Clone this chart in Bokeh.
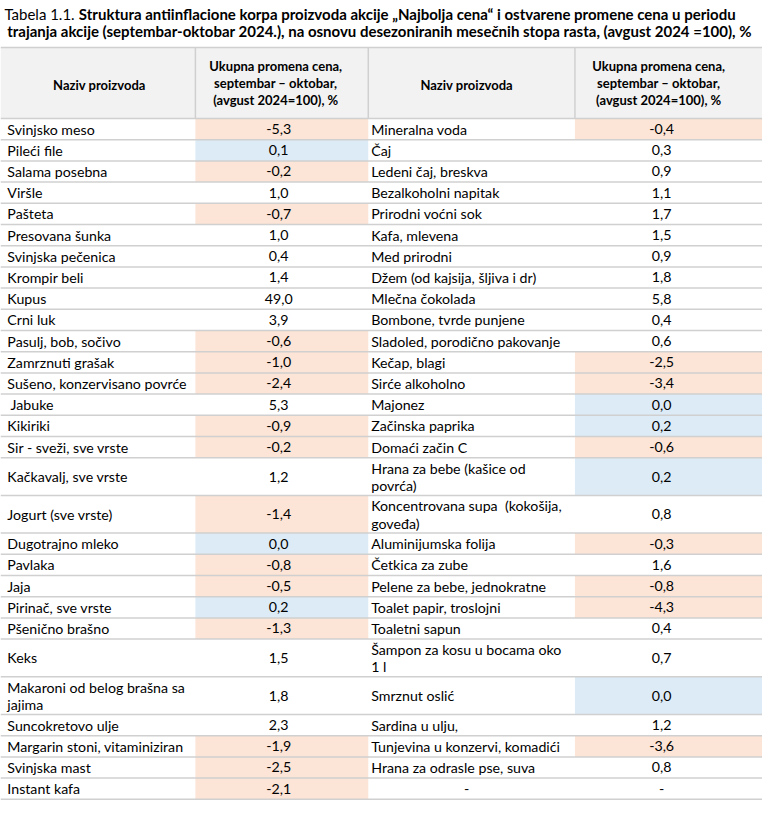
from bokeh.plotting import figure
from bokeh.models import Range1d, ColumnDataSource
from bokeh.core.properties import value
from bokeh.embed import file_html
from bokeh.resources import INLINE

# ---------------- data ----------------
title_prefix = "Tabela 1.1."
title_line1 = "Struktura antiinflacione korpa proizvoda akcije \u201eNajbolja cena\u201c i ostvarene promene cena u periodu"
title_line2 = "trajanja akcije (septembar-oktobar 2024.), na osnovu desezoniranih mesečnih stopa rasta, (avgust 2024 =100), %"
header_name = "Naziv proizvoda"
header_value = ["Ukupna promena cena,", "septembar \u2013 oktobar,", "(avgust 2024=100), %"]

left_names = [
    "Svinjsko meso", "Pileći file", "Salama posebna", "Viršle", "Pašteta",
    "Presovana šunka", "Svinjska pečenica", "Krompir beli", "Kupus", "Crni luk",
    "Pasulj, bob, sočivo", "Zamrznuti grašak", "Sušeno, konzervisano povrće", " Jabuke",
    "Kikiriki", "Sir - sveži, sve vrste", "Kačkavalj, sve vrste", "Jogurt (sve vrste)",
    "Dugotrajno mleko", "Pavlaka", "Jaja", "Pirinač, sve vrste", "Pšenično brašno",
    "Keks", "Makaroni od belog brašna sa\njajima", "Suncokretovo ulje",
    "Margarin stoni, vitaminiziran", "Svinjska mast", "Instant kafa",
]
left_values = [
    -5.3, 0.1, -0.2, 1.0, -0.7, 1.0, 0.4, 1.4, 49.0, 3.9,
    -0.6, -1.0, -2.4, 5.3, -0.9, -0.2, 1.2, -1.4, 0.0, -0.8,
    -0.5, 0.2, -1.3, 1.5, 1.8, 2.3, -1.9, -2.5, -2.1,
]
right_names = [
    "Mineralna voda", "Čaj", "Ledeni čaj, breskva", "Bezalkoholni napitak",
    "Prirodni voćni sok", "Kafa, mlevena", "Med prirodni", "Džem (od kajsija, šljiva i dr)",
    "Mlečna čokolada", "Bombone, tvrde punjene", "Sladoled, porodično pakovanje",
    "Kečap, blagi", "Sirće alkoholno", "Majonez", "Začinska paprika", "Domaći začin C",
    "Hrana za bebe (kašice od\npovrća)", "Koncentrovana supa  (kokošija,\ngoveđa)",
    "Aluminijumska folija", "Četkica za zube", "Pelene za bebe, jednokratne",
    "Toalet papir, troslojni", "Toaletni sapun", "Šampon za kosu u bocama oko\n1 l",
    "Smrznut oslić", "Sardina u ulju,", "Tunjevina u konzervi, komadići",
    "Hrana za odrasle pse, suva", "-",
]
right_values = [
    -0.4, 0.3, 0.9, 1.1, 1.7, 1.5, 0.9, 1.8, 5.8, 0.4,
    0.6, -2.5, -3.4, 0.0, 0.2, -0.6, 0.2, 0.8, -0.3, 1.6,
    -0.8, -4.3, 0.4, 0.7, 0.0, 1.2, -3.6, 0.8, None,
]

# ---------------- layout (reference pixel units) ----------------
W_REF, H_REF = 778, 818
FIG_W, FIG_H = 762, 801
col_edges = [0, 199, 375.5, 586.5, 778]
name_x = [7, 378.5]
value_cx = [284, 675]
name_cx = [101, 476]
header_top, header_bot = 48, 120.5
single_h, double_h = 21.65, 38.5

FONT = "Lato"
body_size = "14.2px"
head_size = "13px"
title_size = "15px"

PEACH = "#FCE4D6"
BLUE = "#DDEBF7"
HEAD_BG = "#F2F2F2"
LINE = "#D0D0D0"
TXT = "#000000"


def fill_for(v):
    if v is None:
        return None
    if v < 0:
        return PEACH
    if v <= 0.2:
        return BLUE
    return None


def fmt(v):
    return "-" if v is None else f"{v:.1f}".replace(".", ",")


def keep_spaces(s):
    stripped = s.lstrip(" ")
    out = "\u00a0" * (len(s) - len(stripped)) + stripped
    return out.replace("  ", " \u00a0")


p = figure(width=FIG_W, height=FIG_H, output_backend="svg", toolbar_location=None,
           x_range=Range1d(0, W_REF), y_range=Range1d(H_REF, 0),
           x_axis_type=None, y_axis_type=None, min_border=0)
p.grid.visible = False
p.outline_line_color = None
p.background_fill_color = "white"
p.border_fill_color = "white"

# row geometry
n = len(left_names)
tops, bots = [], []
y = header_bot
for i in range(n):
    lines = max(left_names[i].count("\n"), right_names[i].count("\n")) + 1
    h = double_h if lines > 1 else single_h
    tops.append(y)
    bots.append(y + h)
    y += h

# header background
p.quad(left=[col_edges[0]], right=[col_edges[-1]], top=[header_top], bottom=[header_bot],
       fill_color=HEAD_BG, line_color=None)

# cell fills
fl, fr, ft, fb, fc = [], [], [], [], []
for side, vals in enumerate([left_values, right_values]):
    for i, v in enumerate(vals):
        c = fill_for(v)
        if c:
            fl.append(col_edges[2 * side + 1]); fr.append(col_edges[2 * side + 2])
            ft.append(tops[i]); fb.append(bots[i]); fc.append(c)
p.quad(source=ColumnDataSource(dict(l=fl, r=fr, t=ft, b=fb, c=fc)),
       left="l", right="r", top="t", bottom="b", fill_color="c", line_color=None)

# horizontal lines
ys = [header_top, header_bot] + bots
p.multi_line(xs=[[col_edges[0], col_edges[-1]] for _ in ys], ys=[[yy, yy] for yy in ys],
             line_color=LINE, line_width=1.5)
# header vertical separators
p.multi_line(xs=[[x, x] for x in col_edges[1:-1]], ys=[[header_top, header_bot]] * 3,
             line_color=LINE, line_width=1.5)

# title
p.text(x=[4], y=[14], text=[title_prefix], text_font=value(FONT), text_font_size=value(title_size),
       text_baseline="middle", text_align="left", text_color=TXT)
p.text(x=[80], y=[14], text=[title_line1], text_font=value(FONT), text_font_size=value(title_size),
       text_font_style="bold", text_baseline="middle", text_align="left", text_color=TXT)
p.text(x=[387], y=[31.5], text=[title_line2], text_font=value(FONT), text_font_size=value(title_size),
       text_font_style="bold", text_baseline="middle", text_align="center", text_color=TXT)

# header texts
hx, hy, ht = [], [], []
for side in range(2):
    hx.append(name_cx[side]); hy.append(86); ht.append(header_name)
    for k, line in enumerate(header_value):
        hx.append(value_cx[side] - 3); hy.append(67 + 17.5 * k); ht.append(line)
p.text(x=hx, y=hy, text=ht, text_font=value(FONT), text_font_size=value(head_size),
       text_font_style="bold", text_baseline="middle", text_align="center", text_color=TXT)

# body texts
nx, ny, nt, na = [], [], [], []
for side, names in enumerate([left_names, right_names]):
    for i, name in enumerate(names):
        mid = (tops[i] + bots[i]) / 2
        parts = name.split("\n")
        if name == "-":
            nx.append(name_cx[side]); ny.append(mid); nt.append(name); na.append("center")
            continue
        if len(parts) == 1:
            nx.append(name_x[side]); ny.append(mid); nt.append(keep_spaces(name)); na.append("left")
        else:
            for k, part in enumerate(parts):
                nx.append(name_x[side]); ny.append(mid - 8.5 + 17.5 * k); nt.append(keep_spaces(part)); na.append("left")
p.text(source=ColumnDataSource(dict(x=nx, y=ny, t=nt, a=na)), x="x", y="y", text="t",
       text_align="a", text_font=value(FONT), text_font_size=value(body_size),
       text_baseline="middle", text_color=TXT)

vx, vy, vt = [], [], []
for side, vals in enumerate([left_values, right_values]):
    for i, v in enumerate(vals):
        vx.append(value_cx[side]); vy.append((tops[i] + bots[i]) / 2); vt.append(fmt(v))
p.text(x=vx, y=vy, text=vt, text_align="center", text_font=value(FONT),
       text_font_size=value(body_size), text_baseline="middle", text_color=TXT)

open("out.html", "w").write(file_html(p, INLINE))
